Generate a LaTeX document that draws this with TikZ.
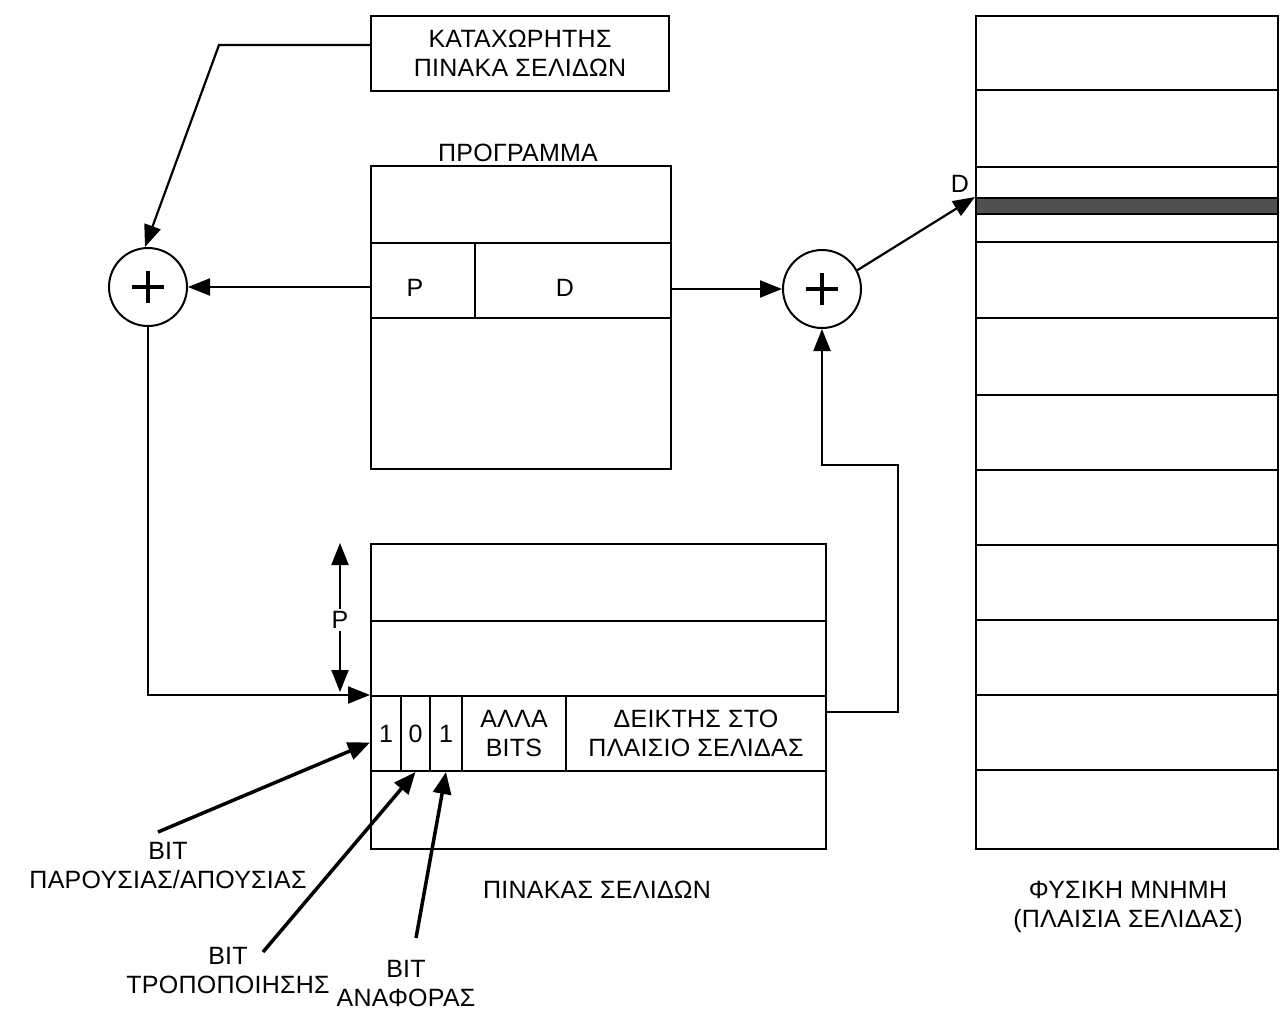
\documentclass[tikz,border=0pt]{standalone}
\usepackage{fontspec}
\setmainfont{Liberation Sans}[LetterSpace=1.0]
\usetikzlibrary{arrows.meta}
\begin{document}
\begin{tikzpicture}[x=1pt,y=-1pt,
  txt/.style={font=\fontsize{25}{29}\selectfont, align=center, inner sep=0pt},
  cell/.style={draw, line width=2pt, inner sep=0pt, anchor=north west, font=\fontsize{25}{29}\selectfont, align=center},
  adder/.style={circle, draw, line width=2pt, minimum size=78pt, inner sep=0pt},
  plus/.style={line width=3.5pt},
  arr/.style={line width=2.2pt, -{Triangle[length=22pt,width=17pt]}},
  thickarr/.style={line width=3.5pt, -{Triangle[length=22pt,width=18pt]}}]
\useasboundingbox (0,0) rectangle (1280,1012);
% page table register
\node[cell, minimum width=298pt, minimum height=75pt] (reg) at (370,15) {ΚΑΤΑΧΩΡΗΤΗΣ\\ΠΙΝΑΚΑ ΣΕΛΙΔΩΝ};
% program
\node[txt] (proglab) at (518,153) {ΠΡΟΓΡΑΜΜΑ};
\node[cell, minimum width=300pt, minimum height=77pt] (prog1) at (370,165) {};
\node[cell, minimum width=104pt, minimum height=75pt] (progP) at (370,242) {};
\node[cell, minimum width=196pt, minimum height=75pt] (progD) at (474,242) {};
\node[cell, minimum width=300pt, minimum height=151pt] (prog3) at (370,317) {};
\node[txt] (ptxt) at (415,288) {P};
\node[txt] (dtxt) at (565,288) {D};
% adders
\node[adder] (L) at (148,287) {};
\node[adder] (R) at (822,289) {};
\draw[plus] ([xshift=-16pt]L.center) -- ([xshift=16pt]L.center) ([yshift=-16pt]L.center) -- ([yshift=16pt]L.center);
\draw[plus] ([xshift=-16pt]R.center) -- ([xshift=16pt]R.center) ([yshift=-16pt]R.center) -- ([yshift=16pt]R.center);
% page table
\node[cell, minimum width=455pt, minimum height=77pt] (pt1) at (370,543) {};
\node[cell, minimum width=455pt, minimum height=75pt] (pt2) at (370,620) {};
\node[cell, minimum width=30pt, minimum height=75pt] (b1) at (370,695) {1};
\node[cell, minimum width=29pt, minimum height=75pt] (b2) at (400,695) {0};
\node[cell, minimum width=32pt, minimum height=75pt] (b3) at (429,695) {1};
\node[cell, minimum width=104pt, minimum height=75pt] (other) at (461,695) {ΑΛΛΑ\\BITS};
\node[cell, minimum width=260pt, minimum height=75pt] (ptr) at (565,695) {ΔΕΙΚΤΗΣ ΣΤΟ\\ΠΛΑΙΣΙΟ ΣΕΛΙΔΑΣ};
\node[cell, minimum width=455pt, minimum height=78pt] (pt4) at (370,770) {};
\node[txt] (ptlab) at (597,890) {ΠΙΝΑΚΑΣ ΣΕΛΙΔΩΝ};
% physical memory
\node[cell, minimum width=302pt, minimum height=833pt] (mem) at (975,15) {};
\node[cell, minimum width=302pt, minimum height=16pt, fill={rgb,255:red,80;green,80;blue,80}] (band) at (975,197) {};
\foreach \yy in {90,167,242,318,395,470,545,620,695,770}
  \draw[line width=2pt] (mem.west |- 0,\yy) -- (mem.east |- 0,\yy);
\node[txt] (memlab) at (1128,907) {ΦΥΣΙΚΗ ΜΝΗΜΗ\\(ΠΛΑΙΣΙΑ ΣΕΛΙΔΑΣ)};
\node[txt] (dlab) at (960,184) {D};
% labels
\node[txt] (lab1) at (168,866) {BIT\\ΠΑΡΟΥΣΙΑΣ/ΑΠΟΥΣΙΑΣ};
\node[txt] (lab2) at (228,971) {BIT\\ΤΡΟΠΟΠΟΙΗΣΗΣ};
\node[txt] (lab3) at (406,984) {BIT\\ΑΝΑΦΟΡΑΣ};
\node[txt, fill=white, inner sep=2pt] (plab) at (340,620) {P};
% connectors
\coordinate (k1) at (219,45);
\draw[arr] (reg.west |- k1) -- (k1) -- ([xshift=-3pt]L.north);
\draw[arr] (progP.west |- L.center) -- (L.east);
\draw[arr] (progD.east |- R.center) -- (R.west);
\draw[arr] (R.28) -- (band.north west);
\draw[arr] (L.south) -- (L.south |- b1.north west) -- (b1.north west);
\draw[arr] (plab.north) -- (plab |- pt1.north);
\draw[arr] (plab.south) -- ([yshift=3pt]plab |- b1.north);
\coordinate (c1) at (898,712);
\coordinate (c2) at (898,465);
\draw[arr] (ptr.east |- c1) -- (c1) -- (c2) -- (R.south |- c2) -- (R.south);
\coordinate (s1) at (158,832);
\coordinate (s2) at (263,952);
\coordinate (s3) at (416,938);
\draw[thickarr] (s1) -- ([yshift=-9pt]b1.west);
\draw[thickarr] (s2) -- (b2.south);
\draw[thickarr] (s3) -- (b3.south);
\end{tikzpicture}
\end{document}
